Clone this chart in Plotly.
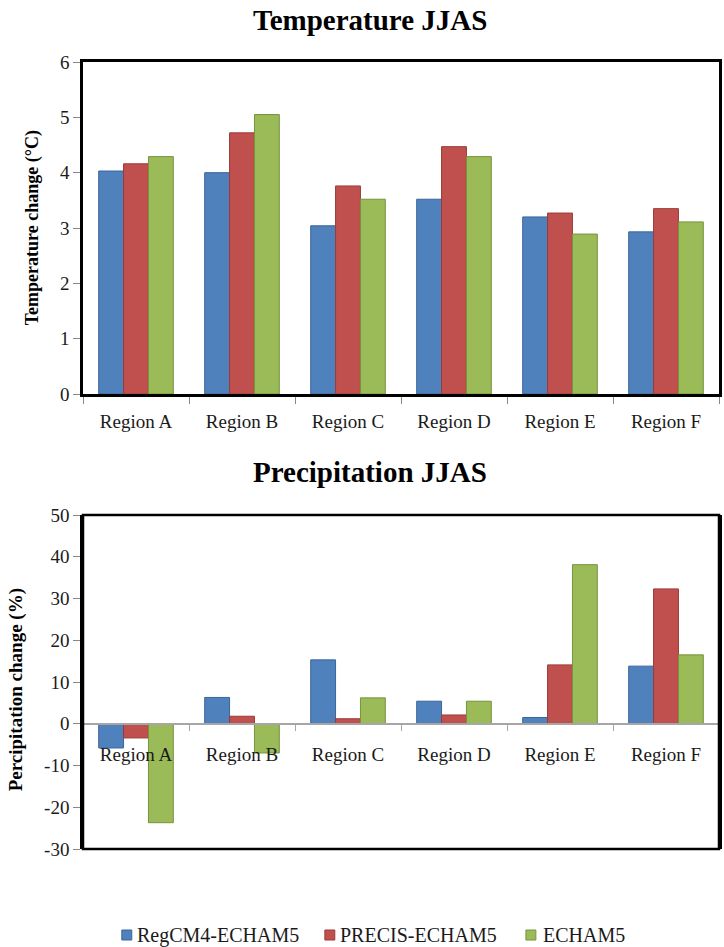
import plotly.graph_objects as go

regions = ["Region A", "Region B", "Region C", "Region D", "Region E", "Region F"]
series_names = ["RegCM4-ECHAM5", "PRECIS-ECHAM5", "ECHAM5"]

temp_regcm = [4.03, 4.00, 3.04, 3.52, 3.20, 2.93]
temp_precis = [4.16, 4.72, 3.76, 4.47, 3.27, 3.35]
temp_echam = [4.29, 5.05, 3.52, 4.29, 2.89, 3.11]

prec_regcm = [-5.8, 6.3, 15.3, 5.4, 1.5, 13.8]
prec_precis = [-3.4, 1.8, 1.2, 2.1, 14.1, 32.3]
prec_echam = [-23.7, -7.0, 6.2, 5.4, 38.1, 16.5]

temp_ticks = [0, 1, 2, 3, 4, 5, 6]
prec_ticks = [-30, -20, -10, 0, 10, 20, 30, 40, 50]
prec_tick_labels = ["-30", "-20", "-10", "0", "10", "20", "30", "40", "50"]

fills = ["#4F81BD", "#C0504D", "#9BBB59"]
edges = ["#3A659A", "#9B3B38", "#76923C"]

FONT = "Times New Roman, Liberation Serif, serif"

fig = go.Figure()
temp = [temp_regcm, temp_precis, temp_echam]
prec = [prec_regcm, prec_precis, prec_echam]
for i in range(3):
    fig.add_trace(go.Bar(x=regions, y=temp[i], name=series_names[i],
                         marker=dict(color=fills[i], line=dict(color=edges[i], width=1)),
                         xaxis="x", yaxis="y", showlegend=False))
for i in range(3):
    fig.add_trace(go.Bar(x=regions, y=prec[i], name=series_names[i],
                         marker=dict(color=fills[i], line=dict(color=edges[i], width=1)),
                         xaxis="x2", yaxis="y2", showlegend=False))

W, H = 724, 947
ml, mr, mt, mb = 83, 2, 62, 98
pw = W - ml - mr
ph = H - mt - mb
top_lo = (H - mb - 394) / ph
bot_hi = (H - mb - 515) / ph
zero_pos = bot_hi * 30 / 80


def px(x):
    return (x - ml) / pw


def py(y):
    return (H - mb - y) / ph


tickfont = dict(family=FONT, size=19, color="#1a1a1a")

# manual legend (squares + labels) laid out like the reference
legend_square_x = [122, 326, 528]
legend_text_x = [135, 339, 543]
legend_y = 935
shapes = [dict(type="rect", xref="x2 domain", yref="y2 domain", x0=0, x1=1, y0=0, y1=1,
               line=dict(color="black", width=2.5), layer="above")]
annotations = []
for i, name in enumerate(series_names):
    shapes.append(dict(type="rect", xref="paper", yref="paper",
                       x0=px(legend_square_x[i]), x1=px(legend_square_x[i] + 10),
                       y0=py(legend_y + 5), y1=py(legend_y - 5),
                       fillcolor=fills[i], line=dict(color=edges[i], width=1)))
    annotations.append(dict(text=name, xref="paper", yref="paper", x=px(legend_text_x[i]),
                            y=py(legend_y), xanchor="left", yanchor="middle", showarrow=False,
                            font=dict(family=FONT, size=20, color="#1a1a1a")))

annotations += [
    dict(text="<b>Temperature JJAS</b>", xref="paper", yref="paper",
         x=px(371), y=py(20), xanchor="center", yanchor="middle", showarrow=False,
         font=dict(family=FONT, size=29)),
    dict(text="<b>Precipitation JJAS</b>", xref="paper", yref="paper",
         x=px(371), y=py(472), xanchor="center", yanchor="middle", showarrow=False,
         font=dict(family=FONT, size=29)),
    dict(text="<b>Temperature change (°C)</b>", xref="paper", yref="paper",
         x=px(33), y=py(228), xanchor="center", yanchor="middle", textangle=-90,
         showarrow=False, font=dict(family=FONT, size=18)),
    dict(text="<b>Percipitation change (%)</b>", xref="paper", yref="paper",
         x=px(16), y=py(690), xanchor="center", yanchor="middle", textangle=-90,
         showarrow=False, font=dict(family=FONT, size=19)),
]

fig.update_layout(
    width=W, height=H,
    margin=dict(l=ml, r=mr, t=mt, b=mb),
    paper_bgcolor="white", plot_bgcolor="white",
    barmode="group", bargap=0.296, bargroupgap=0,
    font=dict(family=FONT, size=19, color="black"),
    showlegend=False,
    xaxis=dict(domain=[0, 1], anchor="y", showline=True, mirror=True, linecolor="black",
               linewidth=2.5, ticks="outside", tickson="boundaries", ticklen=7,
               tickcolor="#888888", tickwidth=1.2, tickfont=tickfont, ticklabelstandoff=8,
               showgrid=False),
    yaxis=dict(domain=[top_lo, 1], anchor="x", range=[0, 6], tickvals=temp_ticks,
               showline=True, mirror=True, linecolor="black", linewidth=2.5, ticks="outside",
               ticklen=7, tickcolor="#888888", tickwidth=1.2, tickfont=tickfont,
               showgrid=False, zeroline=False),
    xaxis2=dict(domain=[0, 1], anchor="free", position=zero_pos, showline=True,
                linecolor="#A6A6A6", linewidth=1.5, ticks="outside", tickson="boundaries",
                ticklen=6, tickcolor="#A6A6A6", tickwidth=1.2, tickfont=tickfont,
                ticklabelstandoff=14, showgrid=False),
    yaxis2=dict(domain=[0, bot_hi], anchor="x2", range=[-30, 50], tickvals=prec_ticks,
                ticktext=prec_tick_labels, showline=True, mirror=True, linecolor="black",
                linewidth=2.5, ticks="outside", ticklen=7, tickcolor="#888888", tickwidth=1.2,
                tickfont=tickfont, showgrid=False, zeroline=False),
    shapes=shapes,
    annotations=annotations,
)

fig.write_html("out.html", config={"displayModeBar": False},
               post_script="document.body.style.margin='0';document.body.style.padding='0';"
                           "document.body.style.overflow='hidden';")
